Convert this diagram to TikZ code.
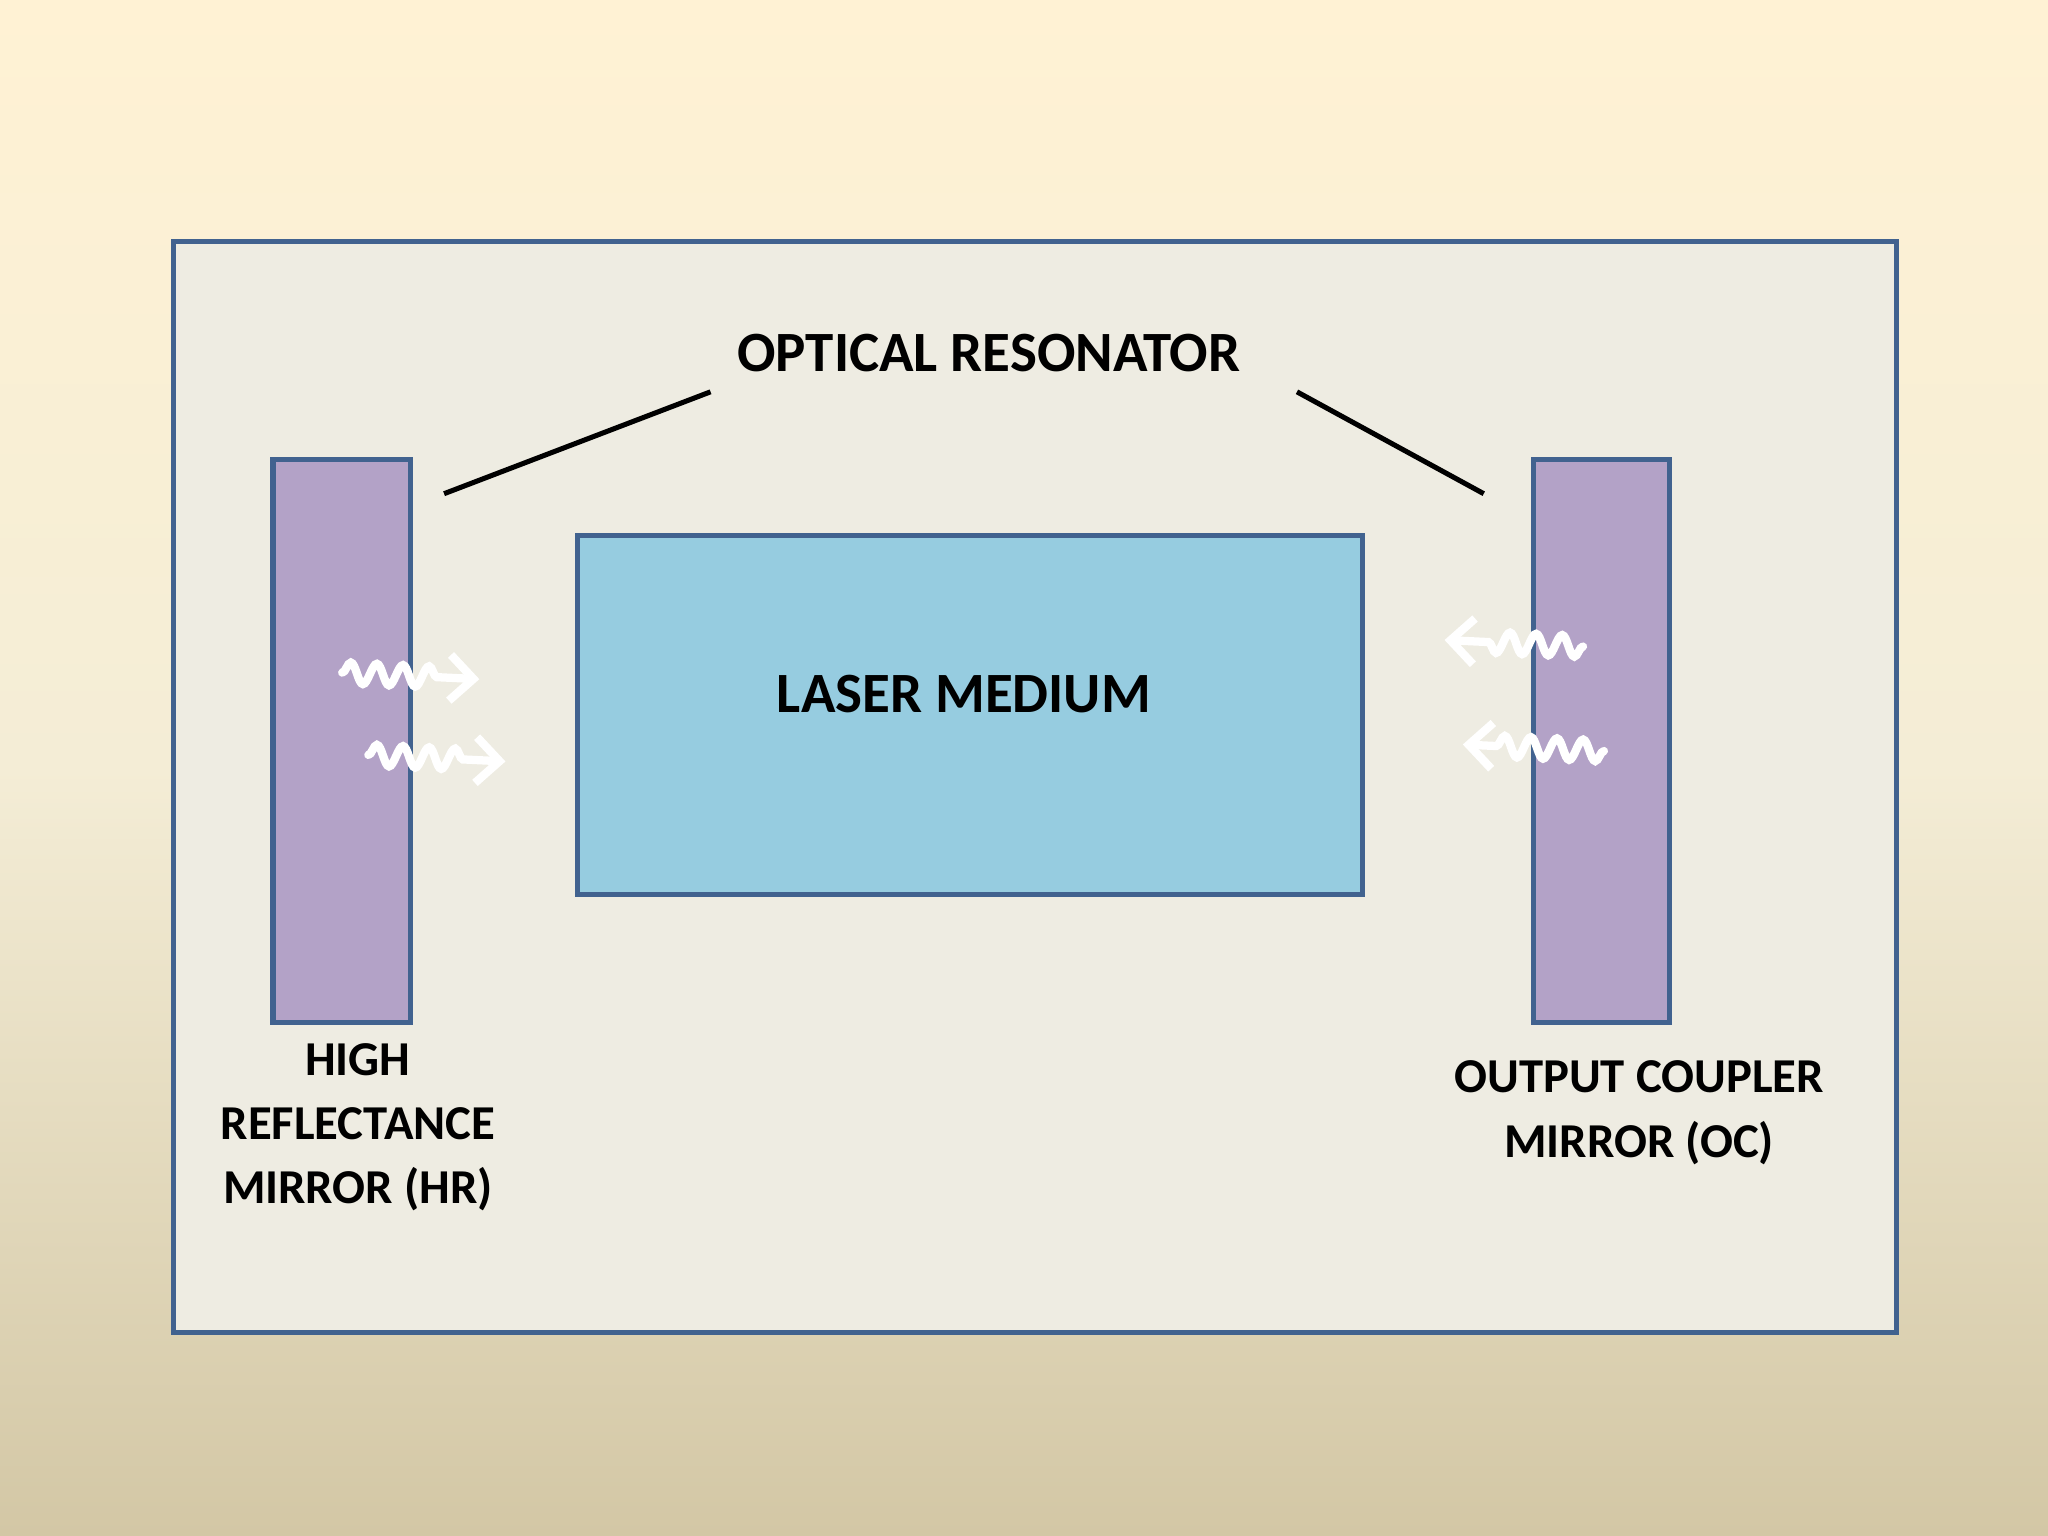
\documentclass[tikz,border=0pt]{standalone}
\usepackage{fontspec}
\setmainfont{Carlito}
\usetikzlibrary{decorations.pathmorphing,arrows.meta}
\definecolor{bord}{RGB}{65,98,143}
\definecolor{inner}{RGB}{238,236,226}
\definecolor{mir}{RGB}{179,162,199}
\definecolor{med}{RGB}{150,204,224}
\definecolor{bgtop}{RGB}{255,242,212}
\definecolor{bgmid}{RGB}{244,237,214}
\definecolor{bgbot}{RGB}{211,199,165}
\tikzset{x=0.01cm,y=-0.01cm,
 box/.style={draw=bord,line width=1.1pt},
 lbl/.style={font=\bfseries\fontsize{10.6}{14}\selectfont,align=center},
 wave/.style={white,line width=1.8pt,line cap=round,decorate,decoration={snake,amplitude=0.08cm,segment length=0.2cm,post length=0.25cm},-{Straight Barb[length=0.18cm,width=0.35cm]}}}
\begin{document}
\begin{tikzpicture}
\shade[top color=bgtop,bottom color=bgbot,middle color=bgmid] (0,0) rectangle (1568,1176);
\useasboundingbox (0,0) rectangle (1568,1176);
\draw[box,fill=inner] (133,185) rectangle (1452,1020);
\draw[box,fill=mir] (209,352) rectangle (314,783);
\draw[box,fill=mir] (1174,352) rectangle (1278,783);
\draw[box,fill=med] (442,410) rectangle (1043,685);
\node[font=\bfseries\fontsize{12.4}{15}\selectfont] (or) at (757,270) {OPTICAL RESONATOR};
\node[font=\bfseries\fontsize{12.4}{15}\selectfont] (lm) at (738,531) {LASER MEDIUM};
\node[lbl] (hr) at (274,863) {HIGH\\REFLECTANCE\\MIRROR (HR)};
\node[lbl] (oc) at (1255,852) {OUTPUT COUPLER\\MIRROR (OC)};
\coordinate (a1) at (544,300); \coordinate (a2) at (340,378);
\coordinate (b1) at (993,300); \coordinate (b2) at (1136,378);
\draw[line width=1.1pt] (a1) -- (a2);
\draw[line width=1.1pt] (b1) -- (b2);
\coordinate (w1s) at (262,515); \coordinate (w1e) at (367,520);
\coordinate (w2s) at (282,578); \coordinate (w2e) at (387,583);
\coordinate (w3s) at (1212,495); \coordinate (w3e) at (1106,490);
\coordinate (w4s) at (1228,575); \coordinate (w4e) at (1120,570);
\draw[wave] (w1s) -- (w1e);
\draw[wave] (w2s) -- (w2e);
\draw[wave] (w3s) -- (w3e);
\draw[wave] (w4s) -- (w4e);
\end{tikzpicture}
\end{document}
